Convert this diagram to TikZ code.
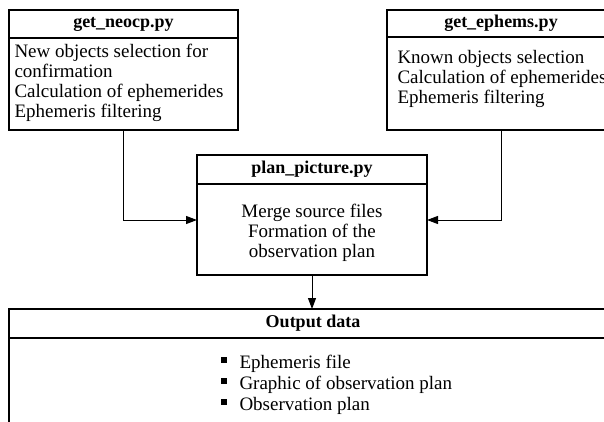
\documentclass[tikz,border=0pt]{standalone}
\usepackage{fontspec}
\setmainfont{Liberation Serif}
\usetikzlibrary{positioning,arrows.meta}

\tikzset{
  box head/.style={draw, line width=1.1pt, inner sep=0pt, outer sep=0pt,
    font=\fontsize{18}{20}\selectfont\bfseries},
  box body/.style={draw, line width=1.1pt, inner sep=0pt, outer sep=0pt},
  box text/.style={inner sep=0pt, font=\fontsize{19}{20}\selectfont},
}

\begin{document}
\begin{tikzpicture}[x=1pt, y=-1pt, line width=1pt, >={Triangle[length=11pt,width=8pt]}]

\useasboundingbox (0,0) rectangle (604,422);
\clip (0,0) rectangle (604,422);

% scripts
\node [box head, anchor=north west, minimum width=229pt, minimum height=28pt]
  (neocp) at (9,10) {get\_neocp.py};
\node [box body, below=0pt of neocp, minimum width=229pt, minimum height=92pt] (neocp-body) {};
\node [box text, align=left, anchor=north west] (neocp-text) at (14,44)
  {New objects selection for\\confirmation\\Calculation of ephemerides\\Ephemeris filtering};

\node [box head, anchor=north west, minimum width=228pt, minimum height=27pt]
  (ephems) at (387,10) {get\_ephems.py};
\node [box body, below=0pt of ephems, minimum width=228pt, minimum height=93pt] (ephems-body) {};
\node [box text, align=left, anchor=north west] (ephems-text) at (397,50)
  {Known objects selection\\Calculation of ephemerides\\Ephemeris filtering};

\node [box head, anchor=north west, minimum width=230pt, minimum height=29pt]
  (plan) at (197,155) {plan\_picture.py};
\node [box body, below=0pt of plan, minimum width=230pt, minimum height=91pt] (plan-body) {};
\node [box text, align=center, anchor=north] (plan-text) at (312,204)
  {Merge source files\\Formation of the\\observation plan};

% output
\node [box head, anchor=north west, minimum width=608pt, minimum height=29pt]
  (output) at (9,309) {Output data};
\node [box body, below=0pt of output, minimum width=608pt, minimum height=120pt] (output-body) {};

\foreach \l [count=\i] in {Ephemeris file, Graphic of observation plan, Observation plan}
  \node [box text, anchor=base west] (item-\i) at (220,347+21*\i)
    {\rule[5pt]{6pt}{6pt}\hspace{13pt}\l};

% connectors
\draw [->] (neocp-body.south) |- ([yshift=9.5pt]plan-body.west);
\draw [->] (ephems-body.south) |- ([yshift=9.5pt]plan-body.east);
\draw [->] (plan-body.south) -- (plan-body.south |- output.north);

\end{tikzpicture}
\end{document}
